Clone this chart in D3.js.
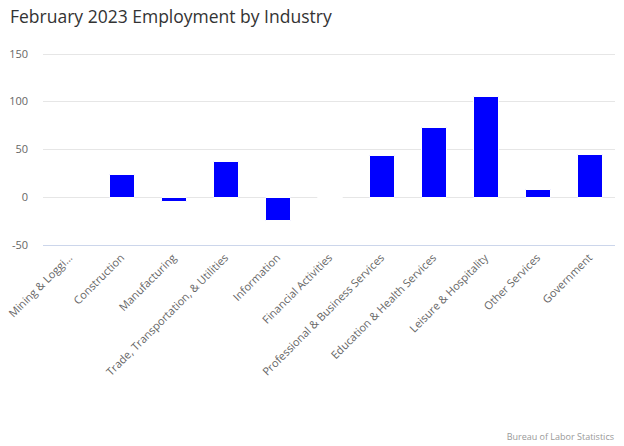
<!DOCTYPE html>
<html><head><meta charset="utf-8">
<script src="https://cdn.jsdelivr.net/npm/d3@7"></script>
<style>
body{margin:0;background:#fff;}
svg{display:block;font-family:"Open Sans","DejaVu Sans",sans-serif;}
</style></head>
<body><svg id="c" width="624" height="446"></svg>
<script>
const categories = ["Mining & Logging","Construction","Manufacturing","Trade, Transportation, & Utilities","Information","Financial Activities","Professional & Business Services","Education & Health Services","Leisure & Hospitality","Other Services","Government"];
const tickLabels = ["Mining & Loggi…","Construction","Manufacturing","Trade, Transportation, & Utilities","Information","Financial Activities","Professional & Business Services","Education & Health Services","Leisure & Hospitality","Other Services","Government"];
const values = [null, 24, -4, 37, -24, 0, 44, 73, 105, 8, 45];
const yTicks = [-50, 0, 50, 100, 150];

const svg = d3.select("#c");
const plotL = 43, plotR = 615, plotT = 53.5, plotB = 244.5;

const x = d3.scaleBand().domain(categories).range([plotL, plotR]).paddingInner(0).paddingOuter(0);
const y = d3.scaleLinear().domain([-50, 150]).range([plotB, plotT]);

svg.append("text").attr("x", 10).attr("y", 23)
  .attr("fill", "#333").attr("font-size", 17.5).text("February 2023 Employment by Industry");

// grid
const grid = svg.append("g");
grid.selectAll("line").data(yTicks.filter(d => d !== -50)).join("line")
  .attr("x1", plotL).attr("x2", plotR)
  .attr("y1", d => Math.round(y(d)) + 0.5).attr("y2", d => Math.round(y(d)) + 0.5)
  .attr("stroke", "#e6e6e6").attr("stroke-width", 1);

// y labels
svg.append("g").selectAll("text").data(yTicks).join("text")
  .attr("x", 28).attr("y", d => y(d) + 4)
  .attr("text-anchor", "end").attr("fill", "#666").attr("font-size", 11)
  .text(d => d);

// x axis line
svg.append("line").attr("x1", plotL).attr("x2", plotR)
  .attr("y1", Math.round(y(-50)) + 0.5).attr("y2", Math.round(y(-50)) + 0.5)
  .attr("stroke", "#ccd6eb").attr("stroke-width", 1);

// bars
const bw = x.bandwidth() * 0.48;
svg.append("g").selectAll("path").data(categories.map((c, i) => ({c, v: values[i]})).filter(d => d.v !== null))
  .join("path")
  .attr("d", d => {
    const x0 = Math.round(x(d.c) + (x.bandwidth() - bw) / 2) + 0.5;
    const y0 = Math.round(y(Math.max(0, d.v))) + 0.5;
    const y1 = Math.round(y(Math.min(0, d.v))) + 0.5;
    const w = Math.round(bw);
    return `M${x0},${y0}H${x0 + w}V${y1}H${x0}Z`;
  })
  .attr("fill", "#0000ff").attr("stroke", "#ffffff").attr("stroke-width", 1);

// x labels
svg.append("g").selectAll("text").data(categories).join("text")
  .attr("transform", (d) => `translate(${x(d) + x.bandwidth() / 2 + 4},${y(-50) + 14}) rotate(-45)`)
  .attr("text-anchor", "end").attr("fill", "#666").attr("font-size", 11)
  .text((d, i) => tickLabels[i]);

// credits
svg.append("text").attr("x", 614).attr("y", 440).attr("text-anchor", "end")
  .attr("fill", "#999").attr("font-size", 9).text("Bureau of Labor Statistics");
</script></body></html>
